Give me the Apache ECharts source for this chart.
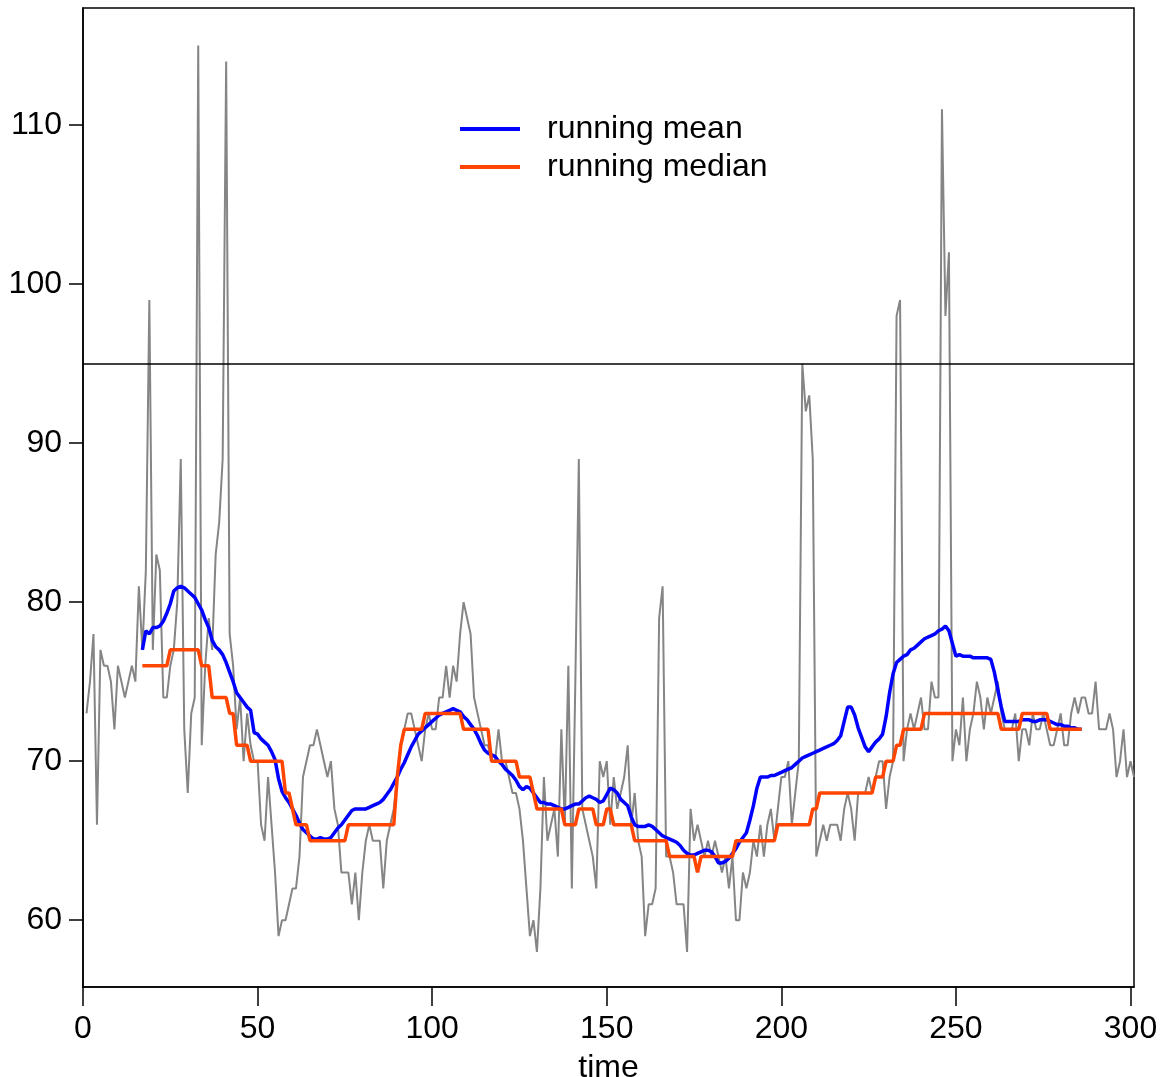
<!DOCTYPE html>
<html>
<head>
<meta charset="utf-8">
<script src="https://cdn.jsdelivr.net/npm/echarts@6/dist/echarts.min.js"></script>
<style>
html,body{margin:0;padding:0;background:#fff;}
#chart{width:1161px;height:1077px;}
</style>
</head>
<body>
<div id="chart"></div>
<script>
// observed series: value at time rawStart, rawStart+1, ...
const rawStart = 1;
const rawValues = [
  73,75,78,66,77,76,76,75,72,76,
  75,74,75,76,75,81,77,82,99,77,
  83,82,74,74,76,77,80,89,72,68,
  73,74,115,71,76,79,77,83,85,89,
  114,78,76,72,74,70,73,71,70,70,
  66,65,69,66,63,59,60,60,61,62,
  62,64,69,70,71,71,72,71,70,69,
  70,67,66,63,63,63,61,63,60,63,
  65,66,65,65,65,62,65,66,67,69,
  71,72,73,73,72,71,70,72,73,72,
  72,74,74,76,74,76,75,78,80,79,
  78,74,73,72,71,71,70,70,72,70,
  70,69,68,68,67,65,62,59,60,58,
  62,69,65,66,67,64,72,66,76,62,
  75,89,67,66,65,64,62,70,69,70,
  66,69,67,68,69,71,66,68,65,64,
  59,61,61,62,79,81,64,64,63,61,
  61,61,58,67,65,66,65,64,65,64,
  65,64,63,64,62,64,60,60,63,62,
  63,65,64,66,64,66,67,65,67,69,
  69,70,66,68,70,95,92,93,89,64,
  65,66,65,66,66,66,65,67,68,67,
  65,68,68,68,69,68,69,70,70,67,
  69,70,98,99,70,72,73,72,73,74,
  72,72,75,74,74,111,98,102,70,72,
  71,74,70,72,73,75,74,72,74,73,
  74,75,73,72,72,72,73,70,72,72,
  71,73,72,72,73,72,71,71,72,73,
  71,71,73,74,73,74,74,73,73,75,
  72,72,72,73,72,69,70,72,69,70,69
];

// running mean / median, values at time smoothStart, smoothStart+1, ...
const smoothStart = 17;
const meanValues = [
  77.0,78.2,78.0,78.4,78.4,78.5,78.8,79.3,79.9,80.7,
  80.9,81.0,80.9,80.7,80.5,80.3,79.9,79.5,78.9,78.4,
  77.6,77.2,77.0,76.7,76.2,75.6,75.0,74.3,74.0,73.7,
  73.4,73.2,71.8,71.7,71.4,71.2,71.0,70.6,70.1,68.9,
  68.1,67.7,67.4,67.0,66.6,66.1,65.7,65.5,65.3,65.1,
  65.1,65.2,65.1,65.1,65.2,65.5,65.8,66.0,66.3,66.6,
  66.9,67.0,67.0,67.0,67.0,67.1,67.2,67.3,67.4,67.6,
  67.9,68.2,68.6,69.0,69.5,69.9,70.4,70.9,71.3,71.7,
  71.9,72.1,72.3,72.5,72.7,72.9,73.0,73.1,73.2,73.3,
  73.2,73.1,72.8,72.6,72.3,72.0,71.6,71.1,70.7,70.5,
  70.4,70.3,70.0,69.8,69.5,69.3,69.1,68.8,68.4,68.2,
  68.4,68.3,68.0,67.7,67.4,67.4,67.3,67.3,67.2,67.1,
  67.0,67.0,67.1,67.2,67.3,67.3,67.5,67.7,67.8,67.7,
  67.6,67.4,67.5,67.9,68.3,68.2,68.0,67.6,67.4,67.2,
  66.5,66.0,65.9,65.9,65.9,66.0,65.9,65.7,65.5,65.3,
  65.2,65.1,65.0,64.9,64.7,64.4,64.2,64.1,64.1,64.2,
  64.3,64.4,64.4,64.3,64.0,63.6,63.6,63.7,63.9,64.2,
  64.5,64.9,65.2,65.5,66.3,67.2,68.3,69.0,69.0,69.0,
  69.1,69.1,69.2,69.3,69.4,69.5,69.6,69.8,70.0,70.2,
  70.3,70.4,70.5,70.6,70.7,70.8,70.9,71.0,71.1,71.3,
  71.6,72.5,73.4,73.4,72.9,72.1,71.5,70.9,70.6,70.9,
  71.2,71.4,71.7,72.8,74.3,75.5,76.2,76.4,76.6,76.7,
  77.0,77.1,77.3,77.5,77.7,77.8,77.9,78.0,78.2,78.3,
  78.5,78.2,77.4,76.6,76.7,76.6,76.6,76.6,76.5,76.5,
  76.5,76.5,76.5,76.4,75.6,74.5,73.4,72.5,72.5,72.5,
  72.5,72.5,72.6,72.6,72.6,72.5,72.5,72.6,72.6,72.6,
  72.5,72.4,72.3,72.3,72.2,72.2,72.1,72.1,72.0,72.0
];
const medianValues = [
  76,76,76,76,76,76,76,76,77,77,
  77,77,77,77,77,77,77,76,76,76,
  74,74,74,74,74,73,73,71,71,71,
  71,70,70,70,70,70,70,70,70,70,
  70,68,68,67,66,66,66,66,65,65,
  65,65,65,65,65,65,65,65,65,66,
  66,66,66,66,66,66,66,66,66,66,
  66,66,66,69,71,72,72,72,72,72,
  72,73,73,73,73,73,73,73,73,73,
  73,73,72,72,72,72,72,72,72,72,
  70,70,70,70,70,70,70,70,69,69,
  69,69,68,67,67,67,67,67,67,67,
  67,66,66,66,66,67,67,67,67,67,
  66,66,66,67,67,66,66,66,66,66,
  66,65,65,65,65,65,65,65,65,65,
  65,64,64,64,64,64,64,64,64,63,
  64,64,64,64,64,64,64,64,64,64,
  65,65,65,65,65,65,65,65,65,65,
  65,65,66,66,66,66,66,66,66,66,
  66,66,67,67,68,68,68,68,68,68,
  68,68,68,68,68,68,68,68,68,68,
  69,69,69,70,70,70,71,71,72,72,
  72,72,72,72,73,73,73,73,73,73,
  73,73,73,73,73,73,73,73,73,73,
  73,73,73,73,73,73,72,72,72,72,
  72,72,73,73,73,73,73,73,73,73,
  72,72,72,72,72,72,72,72,72,72
];

const xTicks = [0, 50, 100, 150, 200, 250, 300];
const yTicks = [60, 70, 80, 90, 100, 110];
const refLevel = 95;
const seriesNames = ['running mean', 'running median'];
const xName = 'time';

const rawData = rawValues.map((v, i) => [rawStart + i, v]);
const meanData = meanValues.map((v, i) => [smoothStart + i, v]);
const medianData = medianValues.map((v, i) => [smoothStart + i, v]);

const FONT = 'Liberation Sans, Arial, Helvetica, sans-serif';
const FS = 32;
const chart = echarts.init(document.getElementById('chart'), null, {renderer: 'canvas'});
chart.setOption({
  animation: false,
  backgroundColor: '#ffffff',
  grid: {left: 83, right: 27, top: 8, bottom: 90, show: true, borderColor: '#000', borderWidth: 1.5,
         backgroundColor: 'transparent', containLabel: false, outerBoundsMode: 'none'},
  legend: {
    orient: 'vertical', left: 460, top: 113, itemGap: 6, padding: 0,
    itemWidth: 60, itemHeight: 4, icon: 'rect',
    data: seriesNames,
    textStyle: {fontFamily: FONT, fontSize: FS, color: '#000', lineHeight: 32, padding: [0, 0, 0, 22]}
  },
  xAxis: {
    type: 'value', min: 0, max: 301,
    axisLine: {show: true, lineStyle: {color: '#000', width: 1.5}},
    splitLine: {show: false},
    axisTick: {show: true, customValues: xTicks, length: 19, lineStyle: {color: '#000', width: 1.5}},
    axisLabel: {customValues: xTicks, color: '#000', fontSize: FS, fontFamily: FONT, margin: 26},
    name: xName, nameLocation: 'middle', nameGap: 65,
    nameTextStyle: {color: '#000', fontSize: FS, fontFamily: FONT}
  },
  yAxis: {
    type: 'value', min: 55.8, max: 117.36,
    axisLine: {show: true, lineStyle: {color: '#000', width: 1.5}},
    splitLine: {show: false},
    axisTick: {show: true, customValues: yTicks, length: 14, lineStyle: {color: '#000', width: 1.5}},
    axisLabel: {customValues: yTicks, color: '#000', fontSize: FS, fontFamily: FONT, margin: 21}
  },
  series: [
    {
      name: 'observed', type: 'line', data: rawData, symbol: 'none', clip: true,
      lineStyle: {color: '#858585', width: 2}, z: 2,
      markLine: {silent: true, symbol: ['none', 'none'], label: {show: false},
        lineStyle: {color: '#000', width: 1.5, type: 'solid'}, data: [{yAxis: refLevel}]}
    },
    {
      name: seriesNames[0], type: 'line', data: meanData, symbol: 'none',
      color: '#0000ff', lineStyle: {color: '#0000ff', width: 3.5}, z: 3
    },
    {
      name: seriesNames[1], type: 'line', data: medianData, symbol: 'none',
      color: '#ff4500', lineStyle: {color: '#ff4500', width: 3.5}, z: 4
    }
  ]
});
</script>
</body>
</html>
